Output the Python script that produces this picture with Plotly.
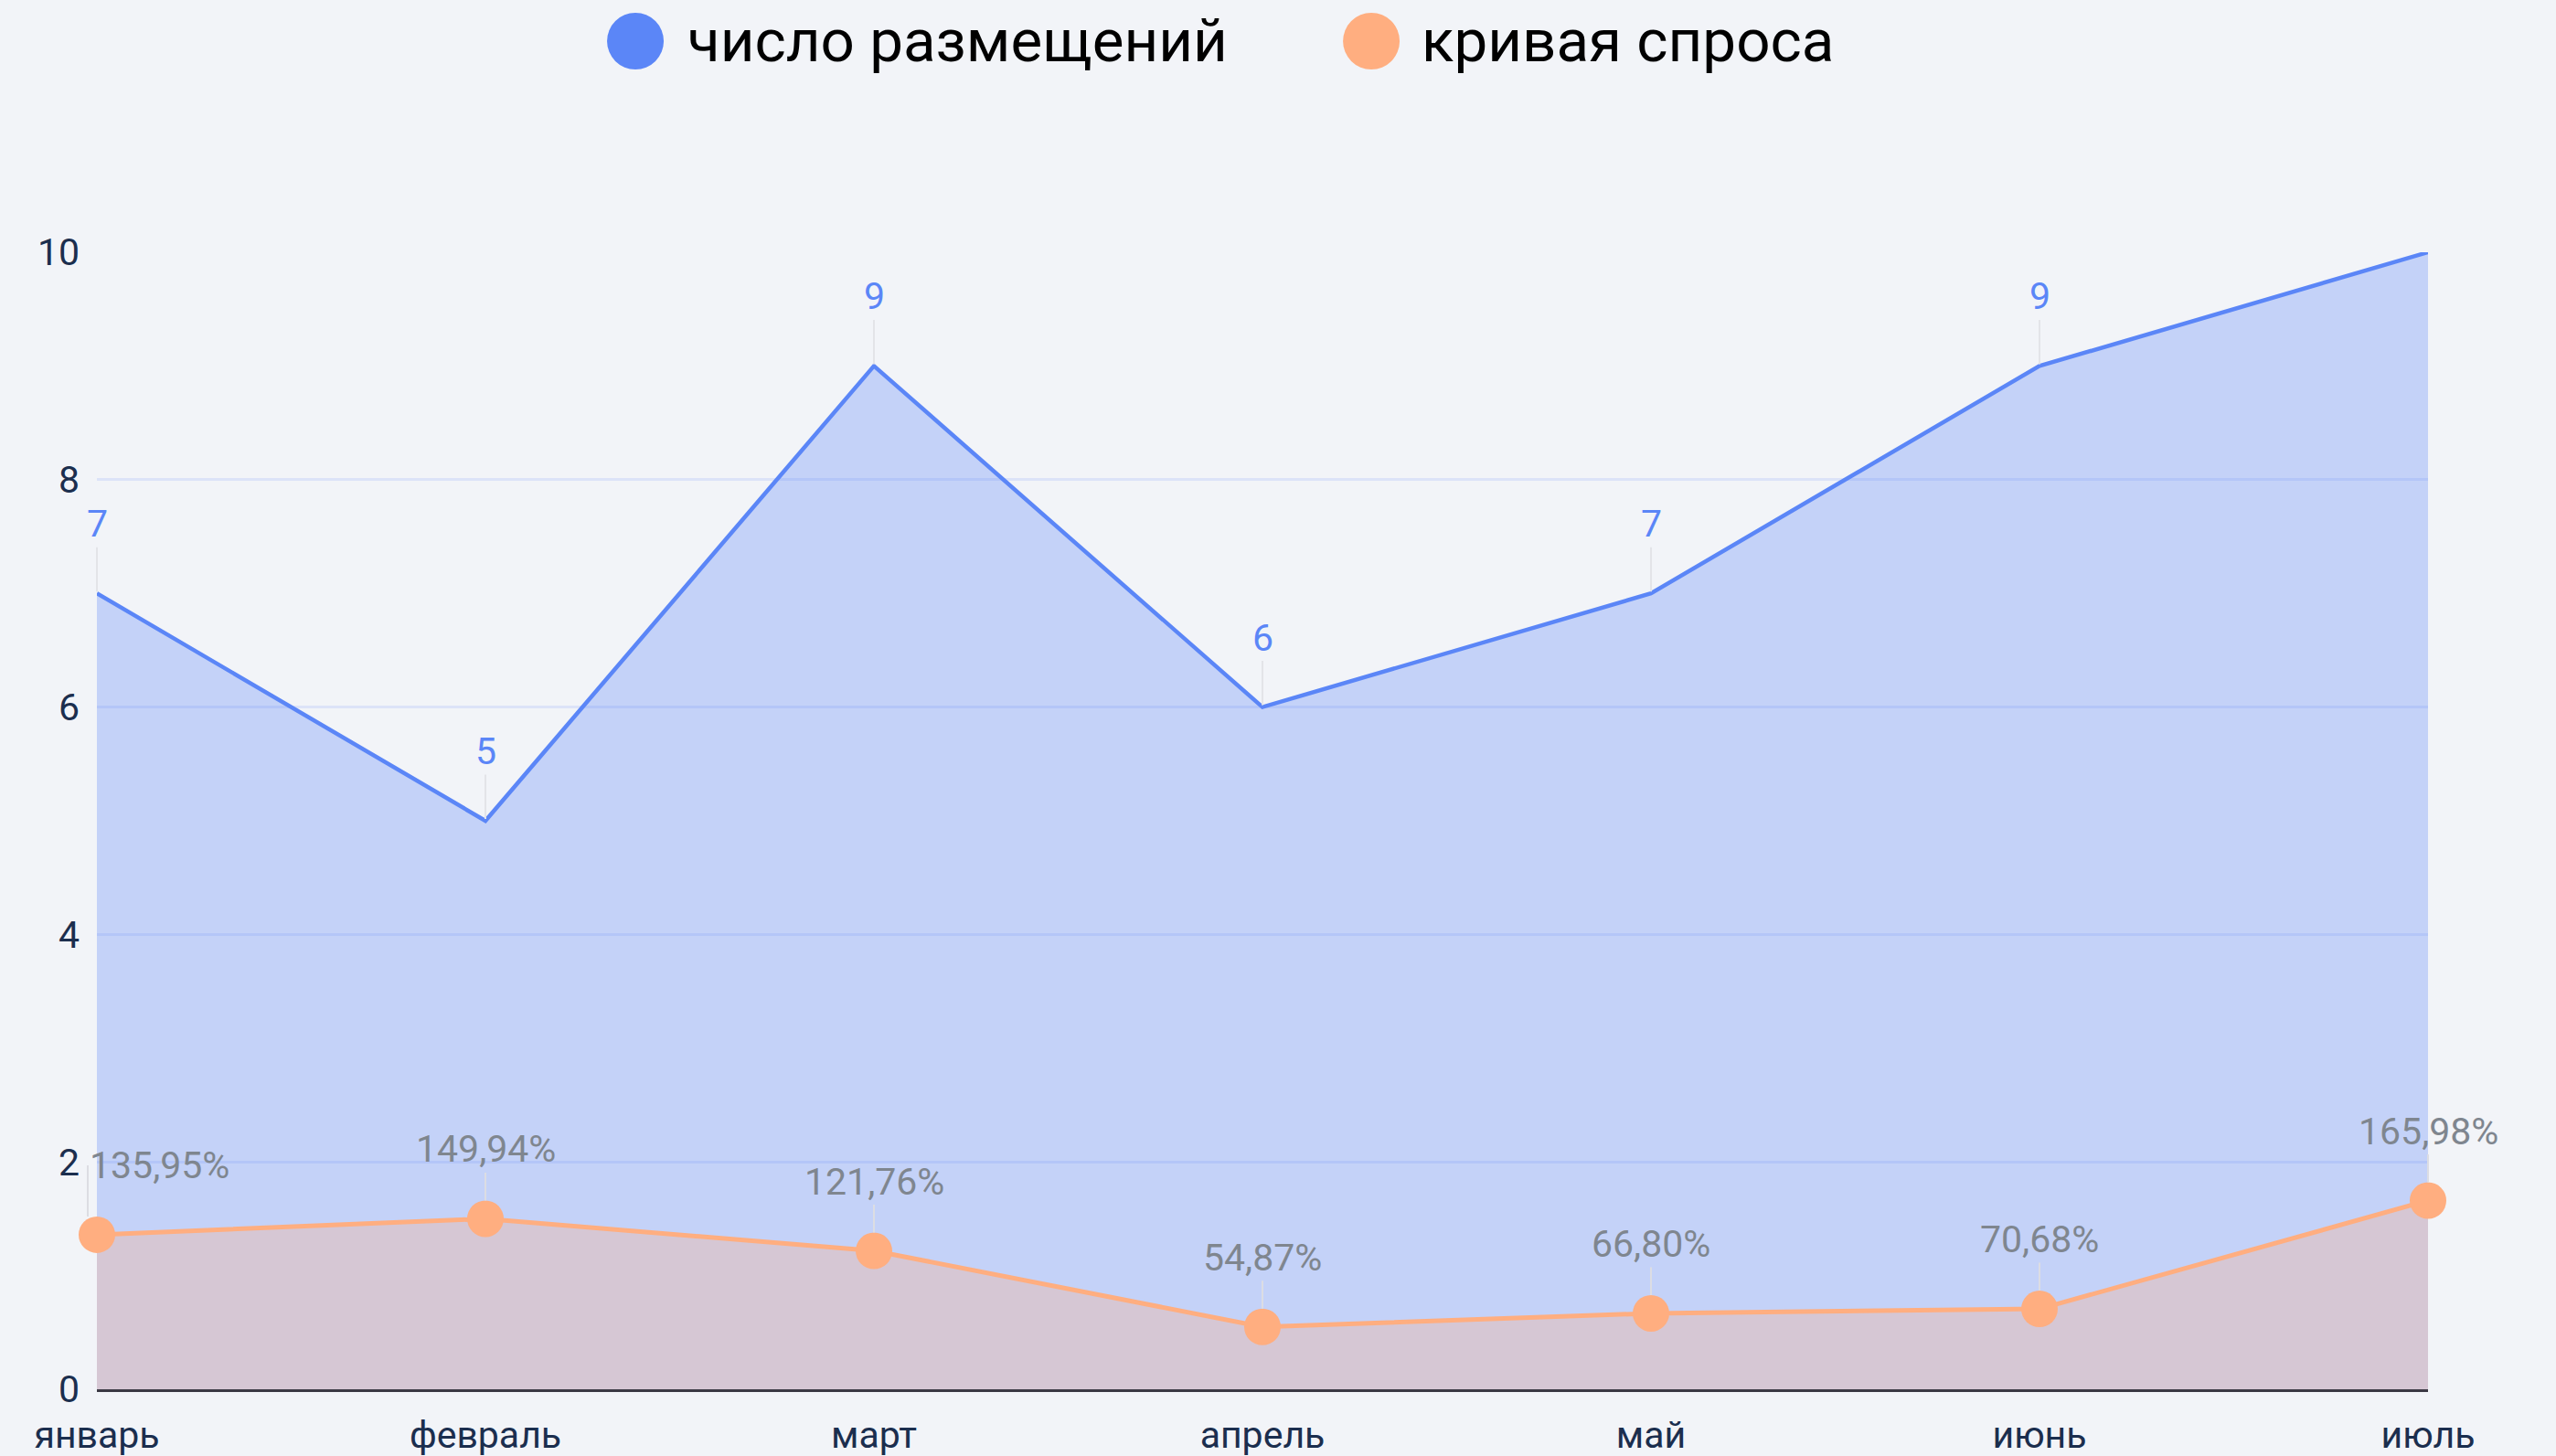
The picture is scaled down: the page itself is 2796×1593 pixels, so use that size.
import plotly.graph_objects as go

months = ["январь", "февраль", "март", "апрель", "май", "июнь", "июль"]
placements = [7, 5, 9, 6, 7, 9, 10]
demand_pct = [135.95, 149.94, 121.76, 54.87, 66.80, 70.68, 165.98]
placement_label_shown = [True, True, True, True, True, True, False]
y_ticks = [0, 2, 4, 6, 8, 10]
legend_names = ["число размещений", "кривая спроса"]

BLUE = "#5b86f7"
ORANGE = "#ffae80"
BG = "#f2f4f8"
NAVY = "#1b2e4e"
GRAY_TXT = "#7f868f"
FONT = "Roboto"

demand = [p / 100 for p in demand_pct]

fig = go.Figure()
fig.add_trace(go.Scatter(
    x=months, y=placements, mode="lines", name=legend_names[0],
    line=dict(color=BLUE, width=4.5), fill="tozeroy",
    fillcolor="rgba(91,134,247,0.30)", showlegend=False, cliponaxis=False,
))
fig.add_trace(go.Scatter(
    x=months, y=demand, mode="lines+markers", name=legend_names[1],
    line=dict(color=ORANGE, width=5), marker=dict(size=40, color=ORANGE),
    fill="tozeroy", fillcolor="rgba(255,174,128,0.30)", showlegend=False,
    cliponaxis=False,
))

annotations = []
for i, (m, v) in enumerate(zip(months, placements)):
    if not placement_label_shown[i]:
        continue
    annotations.append(dict(
        x=m, y=v, xref="x", yref="y", text=str(v), showarrow=True,
        ax=0, ay=-76, arrowhead=0, arrowwidth=2, arrowcolor="#e3e4e8",
        standoff=2, font=dict(family=FONT, size=41, color=BLUE),
    ))
for i, (m, v, p) in enumerate(zip(months, demand, demand_pct)):
    txt = f"{p:.2f}".replace(".", ",") + "%"
    annotations.append(dict(
        x=m, y=v, xref="x", yref="y", text=txt, showarrow=True,
        ax=0, ay=-76, arrowhead=0, arrowwidth=2, arrowcolor="#dcdde3",
        standoff=20, xanchor="left" if i == 0 else "center",
        xshift=-10 if i == 0 else 0,
        font=dict(family=FONT, size=41, color=GRAY_TXT),
    ))

# custom legend
legend_items = [(legend_names[0], BLUE, 0.231, 0.2525), (legend_names[1], ORANGE, 0.5467, 0.5673)]
shapes = []
for name, col, cx, tx in legend_items:
    shapes.append(dict(
        type="circle", xref="paper", yref="paper", xsizemode="pixel", ysizemode="pixel",
        xanchor=cx, yanchor=1.1857, x0=-31, x1=31, y0=-31, y1=31,
        fillcolor=col, line=dict(width=0),
    ))
    annotations.append(dict(
        x=tx, y=1.1857, xref="paper", yref="paper", text=name, showarrow=False,
        xanchor="left", yanchor="middle", font=dict(family=FONT, size=65.5, color="#000000"),
    ))

fig.update_layout(
    width=2796, height=1593,
    margin=dict(l=106, r=140, t=276, b=73),
    paper_bgcolor=BG, plot_bgcolor=BG,
    font=dict(family=FONT, size=41, color=NAVY),
    annotations=annotations, shapes=shapes,
    showlegend=False,
)
fig.update_xaxes(
    range=[0, len(months) - 1], showgrid=False, zeroline=False, automargin=False,
    showline=True, linecolor="#3b3944", linewidth=3,
    ticks="", ticklabelstandoff=12, tickfont=dict(family=FONT, size=41, color=NAVY),
)
fig.update_yaxes(
    range=[0, 10], tickvals=y_ticks, showgrid=True, gridcolor="#dce3f8", gridwidth=2.5,
    zeroline=False, showline=False, ticks="", ticklabelstandoff=18, automargin=False,
    tickfont=dict(family=FONT, size=41, color=NAVY),
)

fig.write_html(
    "out.html",
    config={"displayModeBar": False},
    post_script="document.body.style.margin='0';document.body.style.overflow='hidden';",
)
